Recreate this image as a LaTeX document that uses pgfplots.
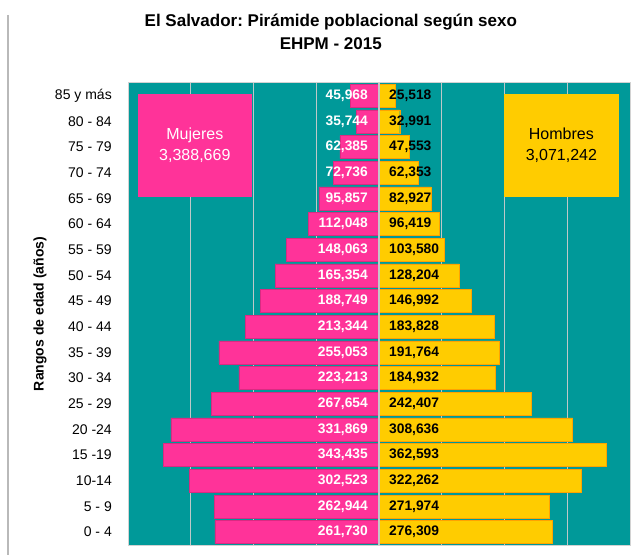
\documentclass[border=0pt]{standalone}
\usepackage{pgfplots}
\pgfplotsset{compat=1.18}
\usepackage{pgfplotstable}
\usepackage{fontspec}
\setmainfont{Liberation Sans}
\frenchspacing

\definecolor{bg}{RGB}{0,153,153}
\definecolor{muj}{RGB}{255,51,153}
\definecolor{hom}{RGB}{255,204,0}
\definecolor{gridc}{RGB}{190,200,200}

% y = 0 is the youngest group
\pgfplotstableread{
y f m
0 261730 276309
1 262944 271974
2 302523 322262
3 343435 362593
4 331869 308636
5 267654 242407
6 223213 184932
7 255053 191764
8 213344 183828
9 188749 146992
10 165354 128204
11 148063 103580
12 112048 96419
13 95857 82927
14 72736 62353
15 62385 47553
16 35744 32991
17 45968 25518
}\pop

\begin{document}
\begin{tikzpicture}
\begin{axis}[
scale only axis,
width=502pt,
height=462pt,
xmin=-400000, xmax=400000,
ymin=-0.5, ymax=17.5,
axis background/.style={fill=bg},
axis line style={draw=gray!35, line width=1pt},
xtick={-300000,-200000,-100000,100000,200000,300000},
xticklabels={},
scaled x ticks=false,
xmajorgrids,
grid style={gridc, line width=0.8pt},
major tick length=0pt,
ytick={0,...,17},
yticklabels={0 - 4,5 - 9,10-14,15 -19,20 -24,25 - 29,30 - 34,35 - 39,40 - 44,45 - 49,50 - 54,55 - 59,60 - 64,65 - 69,70 - 74,75 - 79,80 - 84,85 y más},
yticklabel style={anchor=east, inner sep=0pt, xshift=-16pt, font=\fontsize{14}{16}\selectfont},
ylabel={Rangos de edad (años)},
ylabel style={at={(axis description cs:-0.175,0.5)}, anchor=center, font=\bfseries\fontsize{14}{16}\selectfont},
title={El Salvador: Pirámide poblacional según sexo\\EHPM - 2015},
title style={at={(axis description cs:0.404,1)}, anchor=south, inner sep=0pt, yshift=27pt, align=center, font=\bfseries\fontsize{17}{23}\selectfont},
clip=false
]
\addplot[xbar, bar width=23pt, bar shift=0pt, fill=muj, draw=muj!85!black, line width=0.4pt] table[x expr=-\thisrow{f}, y=y] {\pop};
\addplot[xbar, bar width=23pt, bar shift=0pt, fill=hom, draw=hom!80!red, line width=0.4pt] table[x=m, y=y] {\pop};
\draw[gray!45, line width=1.5pt] (axis cs:0,-0.5) -- (axis cs:0,17.5);

\addplot[draw=none, mark=none, point meta=\thisrow{f},
  nodes near coords={\pgfmathprintnumber[fixed, precision=0, 1000 sep={,}, assume math mode=true]{\pgfplotspointmeta}},
  nodes near coords style={anchor=east, inner sep=0pt, xshift=-11pt, text=white, font=\bfseries\fontsize{13.8}{16}\selectfont}]
  table[x expr=0, y=y] {\pop};
\addplot[draw=none, mark=none, point meta=\thisrow{m},
  nodes near coords={\pgfmathprintnumber[fixed, precision=0, 1000 sep={,}, assume math mode=true]{\pgfplotspointmeta}},
  nodes near coords style={anchor=west, inner sep=0pt, xshift=10pt, text=black, font=\bfseries\fontsize{13.8}{16}\selectfont}]
  table[x expr=0, y=y] {\pop};

\fill[muj] (axis cs:-384000,17.09) rectangle (axis cs:-203000,13.05);
\node[align=center, text=white, font=\fontsize{16}{21}\selectfont] at (axis cs:-293500,15.07) {Mujeres\\3,388,669};
\fill[hom] (axis cs:199300,17.09) rectangle (axis cs:382000,13.05);
\node[align=center, text=black, font=\fontsize{16}{21}\selectfont] at (axis cs:290650,15.07) {Hombres\\3,071,242};
\end{axis}
\draw[gray!55, line width=1.5pt] ([xshift=-120pt, yshift=68pt]current axis.north west) -- ([xshift=-120pt, yshift=-10pt]current axis.south west);
\path ([xshift=-128pt, yshift=-10pt]current axis.south west) rectangle ([xshift=13pt, yshift=83pt]current axis.north east);
\end{tikzpicture}
\end{document}
